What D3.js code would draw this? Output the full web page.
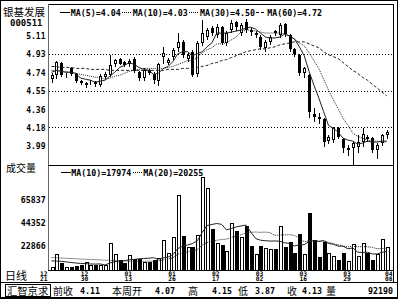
<!DOCTYPE html>
<html>
<head>
<meta charset="utf-8">
<script src="https://cdn.jsdelivr.net/npm/d3@7/dist/d3.min.js"></script>
<style>
  body { margin: 0; background: #fff; }
  svg { display: block; }
  .num { font-family: "DejaVu Sans Mono", monospace; font-weight: bold; fill: #000; }
  .cjk { font-family: "Noto Sans CJK SC", sans-serif; fill: #000; }
</style>
</head>
<body>
<script>
// daily bars, 12/21 .. 04/08
var opens = [4.67,4.71,4.84,4.70,4.78,4.72,4.65,4.61,4.63,4.64, 4.61,4.69,4.71,4.83,4.88,4.85,4.82,4.88,4.74,4.68,
             4.76,4.72,4.65,4.90,4.84,4.90,4.99,5.05,4.88,4.95, 4.72,5.04,5.10,5.19,5.12,5.20,5.04,5.17,5.25,5.14,
             5.25,5.17,5.12,5.10,4.99,5.05,5.16,5.12,5.23,5.12, 4.98,4.92,4.73,4.71,4.32,4.29,4.27,4.04,4.05,4.17,
             4.06,3.95,3.97,3.98,4.03,4.08,4.07,3.95,4.02,4.10];
var highs = [4.73,4.86,4.85,4.73,4.79,4.73,4.66,4.64,4.66,4.65, 4.72,4.74,4.92,4.88,4.89,4.86,4.88,4.90,4.75,4.78,
             4.77,4.74,4.84,5.00,4.89,4.99,5.14,5.07,4.94,4.97, 5.06,5.27,5.19,5.21,5.23,5.21,5.16,5.27,5.26,5.24,
             5.28,5.19,5.16,5.12,5.07,5.12,5.17,5.24,5.24,5.13, 4.99,4.93,4.79,4.72,4.38,4.33,4.28,4.10,4.18,4.18,
             4.07,4.00,4.04,4.10,4.17,4.10,4.08,4.02,4.11,4.15];
var lows = [4.64,4.68,4.70,4.69,4.71,4.64,4.62,4.59,4.62,4.60, 4.60,4.68,4.70,4.80,4.82,4.80,4.80,4.74,4.66,4.66,
            4.72,4.63,4.61,4.84,4.82,4.88,4.96,4.90,4.86,4.70, 4.70,5.02,5.08,5.12,5.10,5.03,5.02,5.15,5.17,5.12,
            5.15,5.12,5.10,4.98,4.96,5.03,5.12,5.10,5.11,4.96, 4.91,4.71,4.69,4.29,4.24,4.22,3.99,4.02,4.03,4.07,
            3.93,3.90,3.80,3.93,3.99,4.04,3.93,3.87,4.00,4.07];
var closes = [4.71,4.85,4.71,4.71,4.72,4.65,4.63,4.63,4.645,4.62, 4.70,4.72,4.81,4.87,4.83,4.81,4.86,4.75,4.68,4.76,
              4.73,4.66,4.82,4.94,4.87,4.97,5.05,4.92,4.92,4.71, 5.04,5.14,5.17,5.14,5.20,5.04,5.14,5.24,5.20,5.22,
              5.17,5.15,5.14,5.00,5.05,5.10,5.14,5.22,5.13,4.98, 4.93,4.73,4.78,4.34,4.29,4.27,4.03,4.08,4.17,4.08,
              3.97,3.97,4.02,4.03,4.11,4.06,3.95,4.00,4.10,4.13];
var volumes = [3300,15400,7000,3300,3300,4200,5100,7900,5100,5000, 5100,5100,25700,15400,9800,7000,14500,10700,10700,7900,
               7900,9800,11700,28500,16300,31300,70500,32200,21900,21900, 33200,87100,76800,38500,25400,23800,18500,44600,37200,31000,
               41600,22900,15000,22900,21000,20000,19800,41600,22200,26900, 16600,34100,15400,53400,28500,12900,26900,16100,13500,9800,
               16600,8900,24800,13500,25400,16100,9800,15400,29100,22200];

// moving average lines
var ma5 = [4.74,4.76,4.75,4.74,4.74,4.73,4.68,4.67,4.66,4.64, 4.65,4.66,4.70,4.74,4.79,4.81,4.84,4.82,4.79,4.77,
           4.76,4.72,4.73,4.78,4.80,4.85,4.93,4.95,4.95,4.91, 4.93,4.95,5.00,5.04,5.14,5.14,5.14,5.15,5.16,5.17,
           5.19,5.20,5.18,5.14,5.10,5.09,5.09,5.10,5.13,5.11, 5.08,5.00,4.91,4.75,4.61,4.48,4.34,4.20,4.17,4.13,
           4.07,4.05,4.04,4.01,4.02,4.04,4.03,4.03,4.04,4.04];
var ma10 = [4.76,4.76,4.75,4.75,4.74,4.73,4.72,4.71,4.70,4.69, 4.69,4.67,4.68,4.70,4.71,4.73,4.75,4.76,4.77,4.78,
            4.78,4.78,4.78,4.78,4.79,4.80,4.82,4.84,4.86,4.86, 4.89,4.94,4.97,4.99,5.03,5.03,5.04,5.07,5.10,5.15,
            5.17,5.17,5.16,5.15,5.14,5.14,5.14,5.14,5.13,5.11, 5.08,5.04,5.01,4.94,4.86,4.78,4.67,4.56,4.46,4.37,
            4.27,4.20,4.12,4.09,4.07,4.05,4.04,4.04,4.03,4.03];
var ma30 = [4.80,4.80,4.79,4.79,4.79,4.78,4.78,4.78,4.77,4.77, 4.77,4.77,4.76,4.76,4.76,4.76,4.76,4.76,4.76,4.76,
            4.76,4.76,4.76,4.76,4.77,4.77,4.77,4.78,4.78,4.78, 4.79,4.80,4.81,4.83,4.84,4.86,4.87,4.89,4.91,4.93,
            4.95,4.96,4.97,4.98,4.98,4.99,5.00,5.02,5.03,5.04, 5.05,5.05,5.05,5.03,5.01,4.99,4.95,4.92,4.90,4.88,
            4.84,4.80,4.76,4.73,4.69,4.66,4.62,4.58,4.54,4.50];
var volMa10 = [9000,8800,8600,8000,7500,7000,6600,6400,6100,5960, 6140,5110,6980,8190,8840,9120,10060,10340,10900,11190,
               11470,11940,10540,11850,12500,14930,20530,22680,23800,25200, 27730,35460,41970,42970,43880,43130,37930,39170,40700,41610,
               42450,36030,29850,28290,27850,27470,27600,27300,25800,25390, 22890,24010,24050,27100,27850,27140,27850,25300,24430,22720,
               22720,20200,21140,17150,16840,17160,15450,15380,16940,17974];
var volMa20 = [12100,11900,11700,11400,11200,11000,10700,10500,10300,10100, 9900,9600,9500,9300,9100,8900,8800,8700,8600,8575,
               8805,8525,8760,10020,10670,12025,15295,16510,17350,18195, 19600,23700,26255,27410,28190,29030,29230,30925,32250,33405,
               35090,35745,35910,35630,35865,35300,32765,33235,33250,33500, 32670,30020,26950,27695,27850,27305,27725,26300,25115,24055,
               22805,22105,22595,22125,22345,22150,21650,20340,20685,20255];

var priceTicks = [5.11, 4.93, 4.74, 4.55, 4.36, 4.18, 3.99];
var priceGrid = [4.93, 4.55, 4.18];
var volTicks = [22866, 44352, 65837];
var tickBars = [0, 7, 16, 25, 34, 43, 52, 61, 69];
var tickMonths = ["12", "12", "01", "01", "02", "03", "03", "03", "04"];
var tickDays = ["21", "30", "13", "26", "17", "02", "16", "29", "08"];

var maNames = ["MA(5)", "MA(10)", "MA(30)", "MA(60)"];
var maLast = ["4.04", "4.03", "4.50", "4.72"];
var volMaNames = ["MA(10)", "MA(20)"];
var volMaLast = ["17974", "20255"];

var statusLabels = ["前收", "本周开", "高", "低", "收", "量"];
var statusValues = ["4.11", "4.07", "4.15", "3.87", "4.13", "92190"];

var svg = d3.select("body").append("svg").attr("width", 400).attr("height", 300);

var plotLeft = 48, plotRight = 393, plotTop = 4, priceBottom = 165, volBottom = 270, statusTop = 282;

var x = d3.scaleLinear().domain([0, closes.length - 1]).range([51.5, 386.8]);
var y = d3.scaleLinear().domain([3.99, 5.11]).range([146, 36]);
var yv = d3.scaleLinear().domain([0, 65837]).range([270.5, 200]);
function px(i) { return Math.round(x(i)) + 0.5; }

// frames
var frame = svg.append("g").attr("stroke", "#000").attr("fill", "none").attr("shape-rendering", "crispEdges");
frame.append("rect").attr("x", 0.5).attr("y", 0.5).attr("width", 397).attr("height", 297.5).attr("stroke-width", 1.5);
frame.append("line").attr("x1", plotLeft).attr("x2", plotRight + 1).attr("y1", plotTop + 0.5).attr("y2", plotTop + 0.5);
frame.append("line").attr("x1", plotRight + 0.5).attr("x2", plotRight + 0.5).attr("y1", plotTop).attr("y2", statusTop + 1);
frame.append("line").attr("x1", plotLeft + 0.5).attr("x2", plotLeft + 0.5).attr("y1", plotTop).attr("y2", volBottom + 1)
  .attr("stroke", "#666");
frame.append("line").attr("x1", plotLeft).attr("x2", plotRight).attr("y1", priceBottom + 0.5).attr("y2", priceBottom + 0.5);
frame.append("line").attr("x1", plotLeft).attr("x2", plotRight).attr("y1", volBottom + 0.5).attr("y2", volBottom + 0.5);
frame.append("line").attr("x1", 0).attr("x2", 398).attr("y1", statusTop + 0.5).attr("y2", statusTop + 0.5);

// dotted price grid
svg.append("g").selectAll("line").data(priceGrid).enter().append("line")
  .attr("x1", plotLeft + 1).attr("x2", plotRight)
  .attr("y1", function(d) { return Math.round(y(d)) + 0.5; })
  .attr("y2", function(d) { return Math.round(y(d)) + 0.5; })
  .attr("stroke", "#000").attr("stroke-dasharray", "1,2").attr("shape-rendering", "crispEdges");

// left labels
svg.append("text").attr("class", "cjk").attr("x", 3).attr("y", 15.5).attr("font-size", 10.5).text("银基发展");
svg.append("text").attr("class", "num").attr("x", 10).attr("y", 25.5).attr("font-size", 9).text("000511");

svg.append("g").selectAll("text").data(priceTicks).enter().append("text")
  .attr("class", "num").attr("font-size", 8).attr("text-anchor", "end")
  .attr("x", 45.5).attr("y", function(d) { return y(d) + 3.3; })
  .text(function(d) { return d.toFixed(2); });

svg.append("g").selectAll("text").data(volTicks).enter().append("text")
  .attr("class", "num").attr("font-size", 8.3).attr("text-anchor", "end")
  .attr("x", 45.8).attr("y", function(d) { return yv(d) + 2.8; })
  .text(function(d) { return d; });

svg.append("text").attr("class", "cjk").attr("x", 6).attr("y", 171.5).attr("font-size", 10).text("成交量");
svg.append("text").attr("class", "cjk").attr("x", 5).attr("y", 280).attr("font-size", 11).text("日线");

// legends
var maStyles = [null, "1,1", "1,1", "3,2"];
function legend(names, values, styles, x0, baseline) {
  var g = svg.append("g");
  var cur = x0;
  names.forEach(function(n, k) {
    g.append("line").attr("x1", cur).attr("x2", cur + 10)
      .attr("y1", baseline - 3.5).attr("y2", baseline - 3.5)
      .attr("stroke", "#000").attr("stroke-dasharray", styles[k])
      .attr("shape-rendering", "crispEdges");
    var t = g.append("text").attr("class", "num").attr("font-size", 8.3)
      .attr("x", cur + 10.7).attr("y", baseline).text(n + "=" + values[k]);
    cur = cur + 10.7 + t.node().getComputedTextLength() + 1.5;
  });
}
legend(maNames, maLast, maStyles, 60, 16);
legend(volMaNames, volMaLast, [null, "1,1"], 60.5, 175.5);

// candles
svg.append("clipPath").attr("id", "pclip").append("rect")
  .attr("x", plotLeft + 1).attr("y", plotTop + 1).attr("width", plotRight - plotLeft - 1).attr("height", priceBottom - plotTop - 1);

var cg = svg.append("g").attr("shape-rendering", "crispEdges");
closes.forEach(function(c, i) {
  var cx = px(i), o = opens[i];
  cg.append("line").attr("x1", cx).attr("x2", cx)
    .attr("y1", Math.round(y(highs[i]))).attr("y2", Math.round(y(lows[i])) + 1)
    .attr("stroke", "#000");
  var t = Math.round(y(Math.max(o, c))), b = Math.round(y(Math.min(o, c)));
  if (b - t < 1) b = t + 1;
  if (c >= o) {
    cg.append("rect").attr("x", cx - 1).attr("y", t + 0.5).attr("width", 2).attr("height", Math.max(b - t - 1, 0))
      .attr("fill", "#fff").attr("stroke", "#000");
  } else {
    cg.append("rect").attr("x", cx - 1.5).attr("y", t).attr("width", 3).attr("height", b - t).attr("fill", "#000");
  }
});

// price moving averages (MA60 only appears in the legend)
var pline = d3.line().x(function(d, i) { return x(i); }).y(function(d) { return y(d); });
var maData = [ma5, ma10, ma30];
var maDash = [null, "1,1", "3,2"];
var mg = svg.append("g").attr("clip-path", "url(#pclip)");
maData.forEach(function(s, k) {
  mg.append("path").attr("d", pline(s)).attr("fill", "none")
    .attr("stroke", "#222").attr("stroke-width", 1)
    .attr("stroke-dasharray", maDash[k]);
});

// volume bars, 4px wide
var vg = svg.append("g").attr("shape-rendering", "crispEdges");
volumes.forEach(function(v, i) {
  var left = Math.round(x(i)) - 1, t = Math.round(yv(v));
  if (closes[i] >= opens[i]) {
    vg.append("rect").attr("x", left + 0.5).attr("y", t + 0.5).attr("width", 3).attr("height", volBottom - t)
      .attr("fill", "#fff").attr("stroke", "#000");
  } else {
    vg.append("rect").attr("x", left).attr("y", t).attr("width", 4).attr("height", volBottom - t + 1).attr("fill", "#000");
  }
});

var vline = d3.line().x(function(d, i) { return x(i); }).y(function(d) { return yv(d); });
[volMa10, volMa20].forEach(function(s, k) {
  svg.append("path").attr("d", vline(s)).attr("fill", "none")
    .attr("stroke", "#222").attr("stroke-width", 1)
    .attr("stroke-dasharray", k ? "1,1" : null);
});

// date labels
var dl = svg.append("g").attr("font-size", 6.3);
tickBars.forEach(function(b, k) {
  var tx, anchor = "middle";
  if (k === 0) { tx = plotLeft - 0.5; anchor = "end"; }
  else if (k === tickBars.length - 1) { tx = plotRight - 0.5; anchor = "end"; }
  else { tx = x(b) - 1; }
  dl.append("text").attr("class", "num").attr("x", tx).attr("y", 275.8).attr("text-anchor", anchor).text(tickMonths[k]);
  dl.append("text").attr("class", "num").attr("x", tx).attr("y", 281.3).attr("text-anchor", anchor).text(tickDays[k]);
});

// status bar
svg.append("rect").attr("x", 5.5).attr("y", 284.5).attr("width", 45).attr("height", 11.5)
  .attr("fill", "none").attr("stroke", "#000").attr("shape-rendering", "crispEdges");
svg.append("text").attr("class", "cjk").attr("x", 7).attr("y", 294.5).attr("font-size", 10.3).text("汇智京求");
var labelX = [53, 112, 188, 238, 287, 326];
var valueX = [100, 175, 232, 275, 322, 393];
statusLabels.forEach(function(s, k) {
  svg.append("text").attr("class", "cjk").attr("x", labelX[k]).attr("y", 294.5).attr("font-size", 10).text(s);
  svg.append("text").attr("class", "num").attr("x", valueX[k]).attr("y", 293.5).attr("font-size", 8.3)
    .attr("text-anchor", "end").text(statusValues[k]);
});
</script>
</body>
</html>
